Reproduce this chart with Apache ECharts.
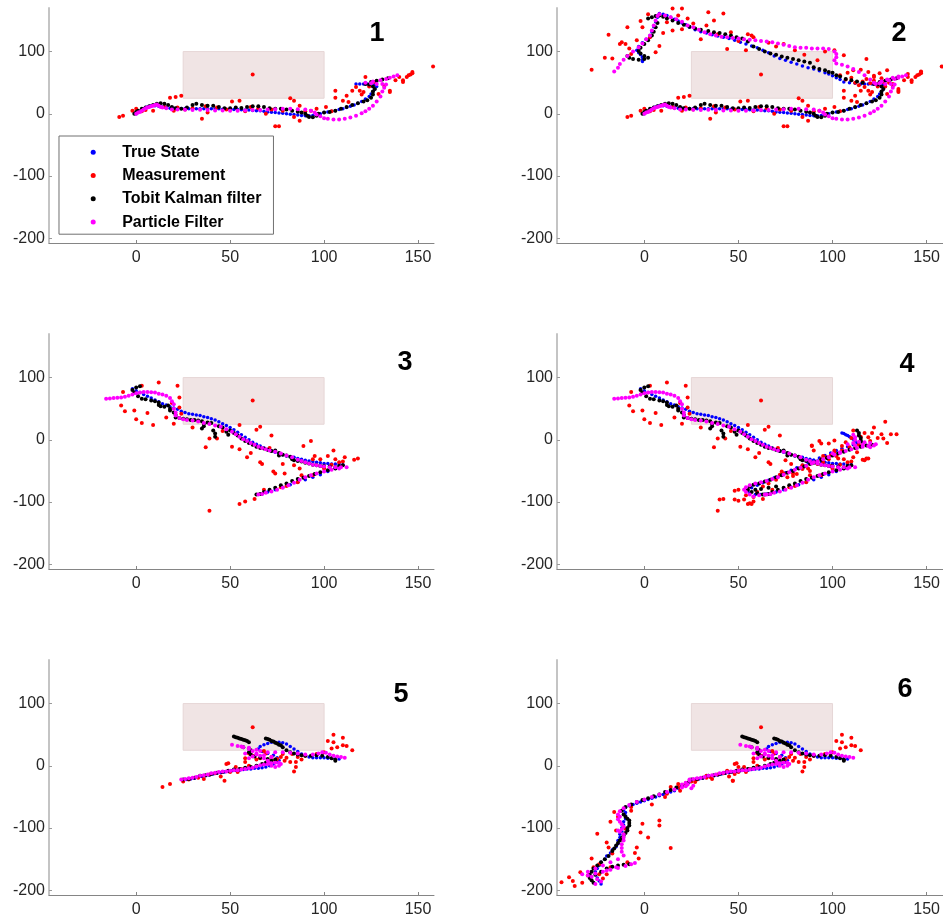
<!DOCTYPE html>
<html>
<head>
<meta charset="utf-8">
<script src="https://cdn.jsdelivr.net/npm/echarts@6/dist/echarts.min.js"></script>
<style>
  html, body { margin: 0; padding: 0; background: #fff; }
  #chart { width: 943px; height: 919px; }
</style>
</head>
<body>
<div id="chart"></div>
<script>
// ---- Tick values and labels ----
const xTicks = [0, 50, 100, 150];
const yTicks = [-200, -100, 0, 100];
const panelLabels = ['1', '2', '3', '4', '5', '6'];
const seriesNames = ['True State', 'Measurement', 'Tobit Kalman filter', 'Particle Filter'];
// Occlusion zone corners [x0, y0], [x1, y1]
const occlusionZone = [[25, 25], [100, 100]];

// ---- Run A: outbound leg (panel 1, repeated in panel 2) ----
const trueStateA = [[0,0],[1,2],[2,4],[3,6],[4,8],[5,10],[6,11],[7,12],[8,13],[10,13],[12,12],[14,11],[16,10],[18,9],[20,9],[22,9],[24,8.5],[26,8.5],[28,8],[30,8],[32,8],[34,8],[36,8],[38,8],[40,8],[42,8],[44,8],[46,7.5],[48,7.5],[50,7],[52,7],[54,7],[56,6.5],[58,6],[60,6],[62,5.5],[64,5],[66,5],[68,4],[70,3],[72,2.5],[74,2],[76,1.5],[78,1],[80,0],[82,-0.5],[84,-1],[86,-2],[88,-2.5],[90,-3],[92,-3],[94,-2.5],[96,-2],[98,0],[100,2],[102,3],[104,4],[106,5],[108,7],[110,8],[112,10],[114,12],[116,14],[118,17],[120,20],[122,24],[124,28],[125,32],[126,36],[127,40],[128,44],[127,47],[125,48],[123,48],[121,48],[119,48],[117,48]];
const measurementA = [[-9,-5],[-7,-3],[-2,5],[0,8],[3,4],[5,6],[9,5],[12,14],[15,11],[18,26],[20,5],[21,27],[24,29],[22,10],[26,7],[30,9],[35,-8],[37,12],[38,2],[43,10],[48,7],[51,20],[55,21],[58,4],[61,11],[62,63],[65,9],[69,0],[72,7],[74,-20],[76,-20],[78,5],[82,25],[84,21],[84,-5],[87,13],[87,-11],[90,4],[93,5],[96,8],[101,11],[104,4],[106,37],[106,26],[110,21],[112,29],[113,19],[115,37],[117,43],[119,37],[120,31],[121,35],[122,59],[124,44],[127,51],[129,32],[132,45],[135,35],[135,37],[138,54],[140,59],[142,51],[142,54],[144,59],[145,62],[146,63],[147,65],[147,67],[158,76]];
const tobitA = [[-1,0],[0,3],[1,5],[3,8],[5,10],[7,12],[9,14],[11,16],[13,17],[15,16],[17,14],[19,11],[21,9],[24,8],[27,10],[30,14],[32,16],[35,14],[38,13],[41,13],[44,11],[47,9],[50,9],[53,10],[56,9.5],[59,11],[62,12],[65,12],[68,11],[71,9],[74,8],[77,8],[80,7],[83,5],[86,3.5],[88,2],[90,0],[91,-3],[92,-5],[94,-5.5],[96,-3],[97,0],[100,2],[103,3],[106,5],[109,8],[112,11],[115,14],[118,17],[121,20],[123,22],[125,26],[126,31],[126,36],[127,40],[126,44],[124,47],[122,48],[125,51],[128,53],[131,55],[134,57]];
const particleA = [[0,0],[1,2],[2,3],[3,5],[4,7],[5,9],[6,10],[7,11],[8,12],[9,13],[10,14],[11,15],[12,13],[13,11],[14,10],[16,9],[19,7],[22,7],[26,6.5],[30,6],[34,6.5],[38,6],[42,5.5],[46,5.5],[50,5],[54,5],[58,5.5],[62,6],[66,6],[70,7],[74,7.5],[78,8],[82,8],[86,7.5],[90,7],[93,5],[95,2],[96,-1],[98,-4],[100,-7],[102,-8],[105,-9],[108,-9],[111,-8],[114,-6],[117,-3],[120,1],[122,4],[124,8],[126,13],[128,20],[130,28],[131,36],[132,42],[133,47],[131,48],[128,48],[125,49],[122,50],[126,52],[130,54],[133,56],[135,58],[137,60],[139,62]];

// ---- Run A: return leg (panel 2 only) ----
const trueStateB = [[115,48],[112,49],[109,50],[106,51],[104,55],[102,58],[100,61],[98,64],[96,66],[93,69],[90,72],[87,74],[84,77],[81,80],[78,83],[75,86],[72,89],[69,93],[66,98],[63,102],[60,106],[57,109],[54,112],[51,115],[48,118],[45,121],[42,123],[39,125],[36,127],[33,130],[30,132],[27,135],[24,139],[22,143],[20,146],[18,149],[16,152],[14,155],[12,158],[10,160],[8,161],[7,155],[6,148],[5,140],[4,132],[3,126],[1,120],[-1,114],[-3,108],[-4,102],[-3,98],[-2,95],[-1,91],[-1,87],[-1,84]];
const measurementB = [[-28,71],[-19,127],[-21,90],[-17,89],[-13,112],[-12,115],[-10,112],[-9,139],[-8,105],[-7,96],[-4,118],[-2,149],[-1,139],[2,160],[3,123],[6,99],[8,109],[10,130],[12,147],[15,134],[15,169],[18,158],[20,136],[20,169],[23,153],[26,145],[28,171],[30,120],[33,142],[34,163],[37,150],[39,128],[42,161],[44,104],[46,131],[50,117],[54,102],[55,128],[57,126],[58,123],[66,114],[70,108],[74,112],[80,102],[85,95],[92,86],[96,100],[101,102],[104,62],[106,94],[107,55],[108,66],[110,58],[111,70],[112,50],[114,46],[115,71],[116,52],[118,88],[118,56],[119,67],[120,49],[122,61],[122,53],[124,47],[125,65],[126,57],[128,44],[129,70],[130,50],[132,48],[135,40],[140,64],[147,68]];
const tobitB = [[116,50],[113,52],[110,54],[107,56],[104,60],[102,62],[100,66],[98,67],[96,70],[93,72],[90,75],[88,82],[85,84],[82,86],[79,88],[76,90],[73,92],[70,95],[67,97],[64,100],[61,104],[58,108],[55,116],[52,121],[49,123],[46,126],[43,128],[40,130],[37,131],[34,133],[30,135],[27,137],[24,140],[21,143],[18,146],[15,150],[12,153],[10,156],[8,158],[6,157],[4,155],[2,153],[7,146],[6,139],[5,132],[4,126],[2,118],[0,112],[-2,106],[-3,101],[-2,97],[0,93],[2,90],[0,88],[-3,87],[-6,88],[-8,90],[-9,93]];
const particleB = [[135,60],[132,58],[129,55],[126,52],[123,48],[120,55],[117,62],[114,67],[111,72],[108,76],[105,79],[102,81],[101,86],[102,91],[102,96],[101,100],[98,104],[95,105],[92,105],[89,105],[86,106],[83,106],[80,107],[77,109],[74,111],[71,113],[68,115],[65,116],[62,117],[59,118],[56,119],[53,120],[50,121],[47,122],[44,123],[41,124],[38,126],[35,128],[32,131],[29,135],[26,139],[23,142],[20,148],[17,152],[14,155],[11,158],[8,160],[7,157],[6,150],[5,142],[4,134],[3,126],[1,120],[-1,113],[-3,107],[-6,100],[-9,93],[-11,87],[-13,80],[-14,74],[-16,68]];

// ---- Run B: descending leg (panel 3, repeated in panel 4) ----
const trueStateC = [[-2,82],[0,79],[2,76],[4,73],[6,70],[8,67],[10,64],[12,61],[14,58],[16,56],[18,53],[20,51],[22,49],[24,46],[26,44],[28,42],[30,41],[32,40],[34,39],[36,37],[38,36],[40,34],[42,32],[44,29],[46,26],[48,23],[50,20],[52,16],[54,12],[56,8],[58,4],[60,0],[62,-4],[64,-7],[66,-10],[68,-13],[70,-16],[72,-18],[74,-20],[76,-22],[78,-24],[80,-26],[82,-27],[84,-28],[86,-30],[88,-31],[90,-33],[92,-34],[94,-35],[96,-36],[98,-37],[100,-38],[102,-38],[104,-39],[106,-39],[108,-39],[110,-40],[106,-46],[102,-51],[98,-56],[94,-60],[90,-64],[86,-68],[82,-72],[78,-76],[74,-80],[70,-84],[67,-87]];
const measurementC = [[-8,55],[-7,77],[-6,46],[-1,47],[0,33],[3,27],[3,87],[6,43],[9,24],[12,92],[16,36],[19,59],[20,26],[22,87],[23,68],[23,52],[24,42],[30,20],[37,-12],[39,2],[39,-114],[43,2],[46,14],[51,-11],[55,-15],[55,24],[55,-103],[58,-99],[59,-28],[61,-21],[62,63],[63,-95],[64,16],[66,21],[66,-36],[67,-39],[68,-80],[71,-13],[72,7],[73,-51],[74,-54],[77,-76],[78,-39],[79,-54],[80,-74],[84,-41],[86,-68],[87,-46],[88,-57],[89,-10],[93,-2],[94,-31],[95,-26],[98,-31],[102,-26],[105,-17],[106,-31],[110,-35],[111,-28],[116,-32],[118,-30],[94,-57],[100,-46],[104,-40],[108,-36]];
const tobitC = [[-2,80],[0,84],[2,86],[-1,76],[1,70],[3,66],[5,65],[8,63],[10,62],[12,60],[12,56],[13,54],[15,53],[17,55],[18,50],[18,47],[20,44],[21,40],[21,36],[23,35],[25,34],[27,33],[29,32],[31,32],[33,31],[35,30],[36,26],[36,22],[35,18],[38,28],[40,27],[41,15],[42,10],[42,5],[44,22],[46,20],[48,13],[49,8],[50,15],[52,11],[54,7],[56,2],[58,-2],[60,-5],[62,-8],[64,-11],[66,-13],[68,-14],[70,-16],[72,-18],[74,-17],[76,-21],[76,-25],[78,-24],[80,-25],[82,-27],[83,-31],[84,-33],[86,-34],[88,-35],[90,-37],[92,-38],[94,-40],[96,-41],[98,-42],[100,-42],[103,-43],[106,-44],[108,-42],[110,-41],[106,-46],[102,-49],[98,-52],[95,-55],[92,-58],[89,-61],[86,-63],[83,-66],[80,-70],[77,-73],[74,-77],[71,-80],[68,-84],[66,-87],[64,-88]];
const particleC = [[-16,66],[-14,66.5],[-12,67],[-10,67.5],[-8,68],[-6,69],[-4,71],[-2,73],[0,75],[2,76],[4,77],[6,77],[8,76.5],[10,76],[12,74],[14,73],[16,71],[18,67],[19,62],[20,57],[20,50],[21,44],[21,39],[23,35],[25,33],[27,32],[30,31],[33,29.5],[36,27],[39,25.5],[42,23],[45,21],[48,17],[51,13],[53,9],[55,5],[57,1],[59,-2],[61,-5],[63,-8],[65,-11],[67,-13],[69,-15],[71,-17],[74,-19],[77,-22],[80,-25],[83,-28],[86,-32],[88,-34],[90,-36],[92,-38],[94,-40],[96,-41],[98,-42],[100,-43],[103,-44],[106,-44],[109,-44],[112,-44],[108,-46],[104,-48],[100,-51],[96,-54],[93,-57],[90,-60],[87,-64],[84,-69],[81,-73],[78,-77],[75,-80],[72,-83],[69,-85],[67,-87],[65,-88]];

// ---- Run B: second loop (panel 4 only) ----
const trueStateD = [[65,-87],[62,-88],[59,-88],[56,-86],[55,-82],[57,-77],[60,-73],[63,-69],[66,-65],[69,-61],[72,-57],[75,-53],[78,-49],[81,-45],[84,-41],[87,-37],[90,-33],[93,-29],[96,-25],[99,-21],[102,-17],[105,-14],[108,-11],[111,-8],[113,-5],[112,-2],[111,1],[110,3],[109,5],[108,7],[107,8],[106,10],[105,11]];
const measurementD = [[40,-96],[42,-95],[48,-82],[48,-96],[50,-98],[50,-80],[53,-96],[54,-89],[56,-102],[57,-103],[58,-92],[60,-84],[63,-75],[66,-70],[70,-64],[72,-56],[75,-33],[76,-60],[79,-58],[81,-55],[84,-47],[86,-42],[88,-50],[89,-9],[90,-17],[92,-39],[94,-6],[95,-36],[97,-28],[98,-6],[99,-25],[99,-42],[101,-17],[101,-1],[101,-20],[103,-30],[105,-10],[107,-4],[109,-12],[110,3],[111,15],[113,-20],[115,5],[117,11],[117,-33],[119,-30],[120,-2],[121,11],[122,20],[124,3],[126,9],[127,2],[128,29],[129,-5],[131,9],[134,9],[119,4],[114,-8]];
const tobitD = [[63,-88],[60,-86],[57,-84],[55,-80],[56,-75],[58,-72],[61,-70],[64,-67],[67,-64],[70,-60],[73,-57],[76,-53],[79,-50],[82,-46],[85,-43],[88,-39],[91,-36],[94,-32],[97,-29],[100,-25],[103,-22],[106,-19],[109,-16],[112,-13],[115,-11],[118,-9],[121,-8],[116,-5],[115,-1],[115,3],[114,7],[114,11],[113,15],[59,-80],[62,-79],[66,-77],[70,-75]];
const particleD = [[64,-88],[61,-89],[58,-91],[56,-88],[54,-84],[53,-80],[54,-76],[56,-73],[59,-70],[62,-68],[65,-66],[68,-63],[71,-60],[74,-56],[77,-52],[80,-48],[83,-45],[86,-42],[89,-38],[92,-35],[95,-31],[98,-28],[101,-24],[104,-21],[107,-18],[110,-15],[113,-13],[116,-11],[119,-10],[122,-9],[123,-7],[120,-5],[117,-4],[114,-3],[111,-5],[108,-7],[112,-9],[116,-8],[120,-12],[104,-20],[100,-22],[112,0],[112,4],[111,8]];

// ---- Run C: eastbound leg (panel 5, repeated in panel 6) ----
const trueStateE = [[25,-23],[27,-22],[29,-21],[31,-20],[33,-18],[35,-17],[37,-16],[39,-15],[41,-13],[43,-12],[45,-11],[47,-10],[49,-9],[51,-8],[53,-7],[55,-7],[57,-6],[59,-5],[61,-5],[63,-4],[65,-4],[67,-3],[69,-2],[71,0],[73,3],[75,6],[76,9],[75,13],[73,17],[70,20],[67,23],[65,27],[66,31],[68,34],[70,36],[72,38],[74,38],[76,38],[78,37],[80,35],[82,31],[84,27],[86,23],[88,19],[90,16],[92,14],[94,13],[96,13],[98,13],[100,13],[102,12],[104,12],[106,11],[108,11]];
const measurementE = [[14,-34],[18,-29],[25,-25],[28,-22],[33,-19],[36,-21],[39,-14],[42,-12],[45,-17],[47,-24],[48,3],[49,4],[50,-10],[53,-2],[54,-10],[56,-5],[58,12],[58,6],[60,20],[60,0],[62,62],[62,16],[64,10],[66,12],[68,24],[69,20],[70,8],[72,14],[74,9],[75,11],[77,14],[78,19],[79,8],[80,13],[82,6],[83,19],[84,-9],[85,6],[85,-2],[86,14],[88,10],[90,16],[96,19],[100,22],[102,40],[104,28],[105,50],[105,38],[107,30],[110,45],[110,33],[112,32],[115,25]];
const tobitE = [[25,-22],[28,-21],[31,-19],[34,-16],[37,-15],[40,-13],[43,-11],[46,-10],[49,-8],[52,-6],[55,-5],[58,-3],[61,-2],[64,0],[67,3],[69,5],[72,8],[74,10],[70,11],[66,13],[63,15],[61,18],[60,22],[61,25],[60,28],[57,30],[52,47],[53,46],[54,45],[55,44],[56,43],[57,42],[58,41],[59,40],[60,38],[69,44],[70,43],[71,42],[72,40],[73,39],[74,37],[75,36],[76,34],[77,33],[78,30],[80,25],[82,22],[84,20],[86,18],[88,17],[90,16],[93,16],[96,17],[99,16],[102,14],[104,12],[106,10],[106,8]];
const particleE = [[24,-22],[26,-21],[28,-20],[30,-19],[32,-18],[34,-16],[36,-15],[38,-14],[40,-12],[42,-11],[44,-10],[46,-9],[48,-9],[50,-8],[52,-7],[54,-7],[56,-6],[58,-5],[60,-4],[62,-3],[64,-1],[66,1],[68,2],[70,3],[72,4],[74,5],[76,5],[77,3],[76,0],[74,-2],[72,0],[71,4],[70,8],[68,12],[66,16],[64,20],[62,24],[60,27],[57,30],[54,32],[51,34],[56,31],[60,29],[64,26],[66,24],[70,22],[74,22],[78,22],[82,21],[86,20],[90,18],[94,18],[97,20],[99,22],[101,21],[103,18],[105,16],[107,15],[109,14],[111,13],[60,12],[62,15],[64,18],[58,20],[68,17],[72,14]];

// ---- Run C: southwest leg (panel 6 only) ----
const trueStateF = [[24,-26],[22,-30],[20,-33],[18,-36],[16,-40],[14,-42],[12,-44],[10,-46],[8,-48],[6,-50],[4,-52],[2,-54],[0,-56],[-2,-58],[-4,-60],[-6,-62],[-8,-64],[-10,-67],[-11,-71],[-10,-75],[-10,-80],[-10,-85],[-11,-90],[-11,-95],[-12,-100],[-12,-105],[-13,-110],[-13,-115],[-14,-120],[-14,-125],[-15,-130],[-17,-135],[-18,-140],[-20,-145],[-21,-150],[-23,-155],[-24,-160],[-25,-165],[-26,-170],[-26,-175],[-25,-180],[-24,-185],[-23,-190]];
const measurementF = [[-44,-187],[-40,-179],[-38,-185],[-37,-193],[-34,-171],[-33,-188],[-30,-176],[-28,-149],[-27,-163],[-25,-109],[-24,-174],[-24,-158],[-22,-181],[-20,-123],[-20,-174],[-19,-131],[-18,-163],[-18,-90],[-17,-141],[-16,-74],[-15,-104],[-14,-82],[-12,-118],[-10,-101],[-9,-155],[-7,-72],[-5,-140],[-4,-131],[-3,-149],[-2,-107],[-1,-93],[2,-115],[4,-62],[8,-88],[8,-96],[12,-45],[14,-132],[18,-34],[19,-40],[22,-28],[27,-26],[33,-16],[35,-18],[44,-8],[47,-24],[48,-13],[50,-2],[11,-50],[-7,-66]];
const tobitF = [[23,-27],[20,-31],[17,-35],[14,-39],[11,-42],[8,-46],[5,-49],[2,-52],[-1,-55],[-4,-58],[-7,-62],[-10,-66],[-12,-72],[-11,-78],[-10,-82],[-9,-85],[-8,-88],[-8,-92],[-8,-96],[-9,-100],[-9,-104],[-10,-108],[-11,-112],[-12,-116],[-13,-120],[-14,-124],[-15,-128],[-16,-133],[-17,-137],[-19,-145],[-21,-150],[-23,-155],[-25,-160],[-27,-165],[-28,-170],[-29,-175],[-29,-180],[-28,-184],[-27,-188],[-26,-175],[-23,-170],[-20,-165],[-17,-162],[-14,-160],[-11,-159],[-8,-158]];
const particleF = [[24,-24],[22,-27],[20,-30],[22,-33],[25,-36],[26,-32],[23,-30],[20,-35],[16,-38],[12,-42],[8,-46],[4,-50],[0,-54],[-4,-58],[-8,-63],[-11,-68],[-13,-73],[-14,-78],[-13,-82],[-14,-86],[-13,-90],[-12,-94],[-11,-98],[-12,-102],[-13,-106],[-14,-104],[-11,-110],[-11,-115],[-11,-120],[-12,-126],[-12,-132],[-12,-138],[-11,-144],[-14,-150],[-18,-155],[-22,-160],[-26,-165],[-30,-170],[-33,-174],[-30,-176],[-26,-173],[-22,-170],[-18,-167],[-14,-164],[-10,-161],[-7,-158],[-5,-156],[-28,-178],[-25,-182],[-23,-186],[-26,-190],[-20,-168],[-15,-163]];

// ---- Per-panel series: [true, measurement, tobit, particle] ----
const panelSeries = [
  [trueStateA, measurementA, tobitA, particleA],
  [trueStateA.concat(trueStateB), measurementA.concat(measurementB), tobitA.concat(tobitB), particleA.concat(particleB)],
  [trueStateC, measurementC, tobitC, particleC],
  [trueStateC.concat(trueStateD), measurementC.concat(measurementD), tobitC.concat(tobitD), particleC.concat(particleD)],
  [trueStateE, measurementE, tobitE, particleE],
  [trueStateE.concat(trueStateF), measurementE.concat(measurementF), tobitE.concat(tobitF), particleE.concat(particleF)]
];

// ---- Styling / layout ----
const FONT = '"Liberation Sans", Arial, Helvetica, sans-serif';
const seriesColors = ['#0000ff', '#ff0000', '#000000', '#ff00ff'];
const markerSizes = [3.5, 4, 4, 4];
const gridBoxes = [
  { left: 49, top: 8, width: 385 }, { left: 557, top: 8, width: 386 },
  { left: 49, top: 334, width: 385 }, { left: 557, top: 334, width: 386 },
  { left: 49, top: 660, width: 385 }, { left: 557, top: 660, width: 386 }
];
const GRID_H = 235;
const labelPos = [[377, 34], [899, 34], [405, 363], [907, 365], [401, 695], [905, 690]];

const grids = [], xAxes = [], yAxes = [], series = [], graphics = [];

gridBoxes.forEach((g, i) => {
  grids.push({ left: g.left, top: g.top, width: g.width, height: GRID_H, containLabel: false });
  xAxes.push({
    type: 'value', gridIndex: i, min: -46.4, max: 158.5,
    splitLine: { show: false },
    axisLine: { onZero: false, lineStyle: { color: '#858585', width: 1 } },
    axisTick: { inside: true, length: 3, customValues: xTicks, lineStyle: { color: '#858585' } },
    axisLabel: { customValues: xTicks, fontSize: 16, color: '#262626', margin: 7, fontFamily: FONT }
  });
  yAxes.push({
    type: 'value', gridIndex: i, min: -207.5, max: 170,
    splitLine: { show: false },
    axisLine: { onZero: false, lineStyle: { color: '#c4c4c4', width: 2 } },
    axisTick: { inside: true, length: 3, customValues: yTicks, lineStyle: { color: '#9a9a9a' } },
    axisLabel: { customValues: yTicks, fontSize: 16, color: '#262626', margin: 4, fontFamily: FONT }
  });
  // shaded occlusion zone
  series.push({
    type: 'scatter', xAxisIndex: i, yAxisIndex: i, data: [], silent: true, z: 1,
    markArea: {
      silent: true,
      itemStyle: { color: '#f0e4e4', borderColor: '#e6d6d6', borderWidth: 1 },
      data: [[{ coord: occlusionZone[0] }, { coord: occlusionZone[1] }]]
    }
  });
  panelSeries[i].forEach((pts, k) => {
    series.push({
      type: 'scatter', name: seriesNames[k], xAxisIndex: i, yAxisIndex: i,
      data: pts, symbol: 'circle', symbolSize: markerSizes[k], z: 2 + k,
      itemStyle: { color: seriesColors[k], opacity: 1 },
      emphasis: { disabled: true }
    });
  });
  graphics.push({
    type: 'text', x: labelPos[i][0], y: labelPos[i][1], z: 50,
    style: { text: panelLabels[i], font: 'bold 27px ' + FONT, fill: '#000', align: 'center', verticalAlign: 'middle' }
  });
});

const chart = echarts.init(document.getElementById('chart'), null, { renderer: 'canvas' });
chart.setOption({
  animation: false,
  backgroundColor: '#fff',
  grid: grids, xAxis: xAxes, yAxis: yAxes, series: series,
  legend: {
    data: seriesNames, orient: 'vertical', left: 59, top: 136,
    icon: 'circle', symbolKeepAspect: true, itemWidth: 48, itemHeight: 5, itemGap: 7.3,
    padding: [8.2, 12, 4.1, 31.7],
    backgroundColor: '#fff', borderColor: '#707070', borderWidth: 1,
    selectedMode: false,
    textStyle: { fontSize: 16, fontWeight: 'bold', color: '#000', fontFamily: FONT, lineHeight: 16 }
  },
  graphic: graphics
});
</script>
</body>
</html>
